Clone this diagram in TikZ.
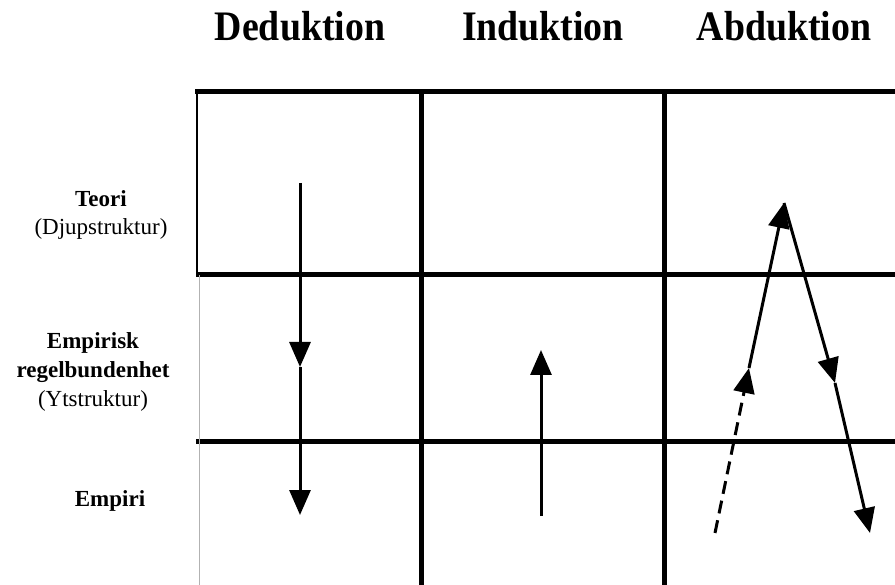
\documentclass[tikz,border=0pt]{standalone}
\usepackage{fontspec}
\setmainfont{Liberation Serif}
\usetikzlibrary{arrows.meta}
\newcommand{\narrow}[1]{\scalebox{0.9}[1]{#1}}
\tikzset{
  gridline/.style={line width=5pt},
  flow/.style={line width=3pt, -{Triangle[length=25pt, width=21pt]}},
  colhead/.style={anchor=base, font=\fontsize{42}{46}\selectfont\bfseries},
  rowlabel/.style={anchor=base, font=\fontsize{23}{28}\selectfont\bfseries},
  rowsub/.style={anchor=base, font=\fontsize{23}{28}\selectfont},
}

\begin{document}
\begin{tikzpicture}[x=1pt, y=-1pt]
    \useasboundingbox (0,0) rectangle (895,585);

    % Headings
    \node[colhead] (ded) at (300,41) {\narrow{Deduktion}};
    \node[colhead] (ind) at (543,41) {\narrow{Induktion}};
    \node[colhead] (abd) at (784,41) {\narrow{Abduktion}};

    % Row labels
    \node[rowlabel] (teori) at (101,207) {Teori};
    \node[rowsub] (djup) at (101,235) {(Djupstruktur)};
    \node[rowlabel] (empirisk) at (93,349) {Empirisk};
    \node[rowlabel] (regel) at (93,378) {regelbundenhet};
    \node[rowsub] (yt) at (93,407) {(Ytstruktur)};
    \node[rowlabel] (empiri) at (110,506) {Empiri};

    % Grid
    \draw[gridline] (195,92) -- (895,92);
    \draw[gridline] (196,275) -- (895,275);
    \draw[gridline] (196,442) -- (895,442);
    \draw[gridline] (421,92) -- (421,585);
    \draw[gridline] (664,92) -- (664,585);
    \draw[line width=2pt] (197,92) -- (197,275);
    \draw[line width=1pt, gray!60] (199,275) -- (199,585);

    % Arrow points
    \coordinate (d0) at (300,183);
    \coordinate (d1) at (300,367);
    \coordinate (d2) at (300,515);
    \coordinate (i0) at (541,516);
    \coordinate (i1) at (541,350);
    \coordinate (a0) at (715,533);
    \coordinate (a1) at (749,368);
    \coordinate (a2) at (784,203);
    \coordinate (a3) at (835,383);
    \coordinate (a4) at (870,533);

    % Directed edges
    \draw[flow] (d0) -- (d1);
    \draw[flow] (d1) -- (d2);
    \draw[flow] (i0) -- (i1);
    \draw[flow, dash pattern=on 13pt off 7pt] (a0) -- (a1);
    \draw[flow] (a1) -- (a2);
    \draw[flow] (a2) -- (a3);
    \draw[flow] (a3) -- (a4);
\end{tikzpicture}
\end{document}
